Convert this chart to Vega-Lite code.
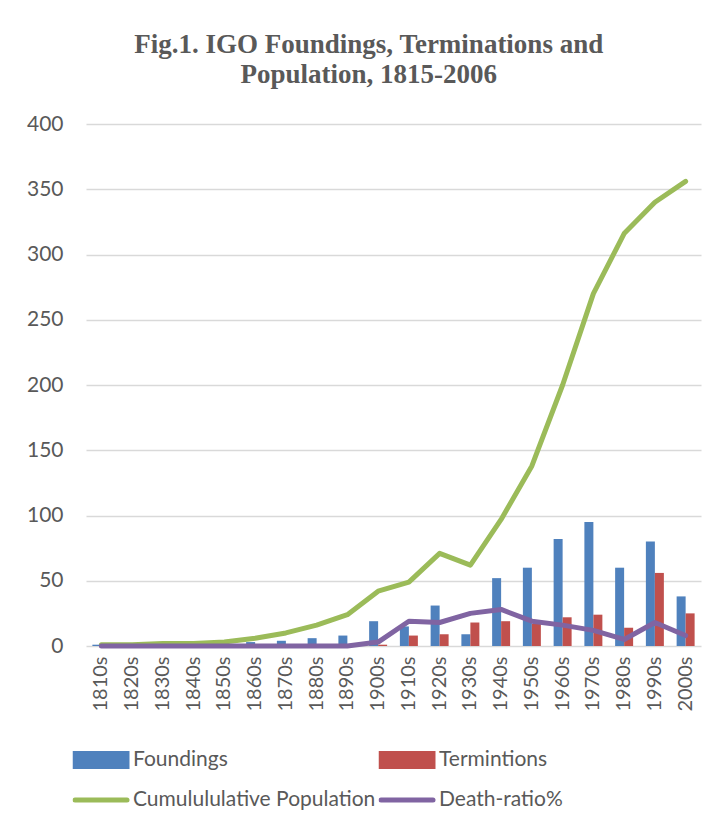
{
  "$schema": "https://vega.github.io/schema/vega-lite/v6.json",
  "autosize": {"type": "none"},
  "width": 615,
  "height": 522,
  "padding": {"left": 86, "top": 124, "right": 18, "bottom": 184},
  "background": "white",
  "title": {
    "text": ["Fig.1. IGO Foundings, Terminations and", "Population, 1815-2006"],
    "font": "Liberation Serif",
    "fontSize": 27,
    "fontWeight": "bold",
    "color": "#595959",
    "lineHeight": 30,
    "anchor": "middle",
    "frame": "bounds",
    "dx": 5,
    "offset": 24
  },
  "config": {
    "view": {"stroke": null},
    "font": "Lato"
  },
  "data": {
    "values": [
      {"decade": "1810s", "series": "Foundings", "value": 1},
      {"decade": "1820s", "series": "Foundings", "value": 0},
      {"decade": "1830s", "series": "Foundings", "value": 0},
      {"decade": "1840s", "series": "Foundings", "value": 0},
      {"decade": "1850s", "series": "Foundings", "value": 1},
      {"decade": "1860s", "series": "Foundings", "value": 3},
      {"decade": "1870s", "series": "Foundings", "value": 4},
      {"decade": "1880s", "series": "Foundings", "value": 6},
      {"decade": "1890s", "series": "Foundings", "value": 8},
      {"decade": "1900s", "series": "Foundings", "value": 19},
      {"decade": "1910s", "series": "Foundings", "value": 15},
      {"decade": "1920s", "series": "Foundings", "value": 31},
      {"decade": "1930s", "series": "Foundings", "value": 9},
      {"decade": "1940s", "series": "Foundings", "value": 52},
      {"decade": "1950s", "series": "Foundings", "value": 60},
      {"decade": "1960s", "series": "Foundings", "value": 82},
      {"decade": "1970s", "series": "Foundings", "value": 95},
      {"decade": "1980s", "series": "Foundings", "value": 60},
      {"decade": "1990s", "series": "Foundings", "value": 80},
      {"decade": "2000s", "series": "Foundings", "value": 38},
      {"decade": "1810s", "series": "Termintions", "value": 0},
      {"decade": "1820s", "series": "Termintions", "value": 0},
      {"decade": "1830s", "series": "Termintions", "value": 0},
      {"decade": "1840s", "series": "Termintions", "value": 0},
      {"decade": "1850s", "series": "Termintions", "value": 0},
      {"decade": "1860s", "series": "Termintions", "value": 0},
      {"decade": "1870s", "series": "Termintions", "value": 0},
      {"decade": "1880s", "series": "Termintions", "value": 0},
      {"decade": "1890s", "series": "Termintions", "value": 0},
      {"decade": "1900s", "series": "Termintions", "value": 1},
      {"decade": "1910s", "series": "Termintions", "value": 8},
      {"decade": "1920s", "series": "Termintions", "value": 9},
      {"decade": "1930s", "series": "Termintions", "value": 18},
      {"decade": "1940s", "series": "Termintions", "value": 19},
      {"decade": "1950s", "series": "Termintions", "value": 17},
      {"decade": "1960s", "series": "Termintions", "value": 22},
      {"decade": "1970s", "series": "Termintions", "value": 24},
      {"decade": "1980s", "series": "Termintions", "value": 14},
      {"decade": "1990s", "series": "Termintions", "value": 56},
      {"decade": "2000s", "series": "Termintions", "value": 25},
      {"decade": "1810s", "series": "Cumulululative Population", "value": 1},
      {"decade": "1820s", "series": "Cumulululative Population", "value": 1},
      {"decade": "1830s", "series": "Cumulululative Population", "value": 2},
      {"decade": "1840s", "series": "Cumulululative Population", "value": 2},
      {"decade": "1850s", "series": "Cumulululative Population", "value": 3},
      {"decade": "1860s", "series": "Cumulululative Population", "value": 6},
      {"decade": "1870s", "series": "Cumulululative Population", "value": 10},
      {"decade": "1880s", "series": "Cumulululative Population", "value": 16},
      {"decade": "1890s", "series": "Cumulululative Population", "value": 24},
      {"decade": "1900s", "series": "Cumulululative Population", "value": 42},
      {"decade": "1910s", "series": "Cumulululative Population", "value": 49},
      {"decade": "1920s", "series": "Cumulululative Population", "value": 71},
      {"decade": "1930s", "series": "Cumulululative Population", "value": 62},
      {"decade": "1940s", "series": "Cumulululative Population", "value": 97},
      {"decade": "1950s", "series": "Cumulululative Population", "value": 138},
      {"decade": "1960s", "series": "Cumulululative Population", "value": 200},
      {"decade": "1970s", "series": "Cumulululative Population", "value": 270},
      {"decade": "1980s", "series": "Cumulululative Population", "value": 316},
      {"decade": "1990s", "series": "Cumulululative Population", "value": 340},
      {"decade": "2000s", "series": "Cumulululative Population", "value": 356},
      {"decade": "1810s", "series": "Death-ratio%", "value": 0},
      {"decade": "1820s", "series": "Death-ratio%", "value": 0},
      {"decade": "1830s", "series": "Death-ratio%", "value": 0},
      {"decade": "1840s", "series": "Death-ratio%", "value": 0},
      {"decade": "1850s", "series": "Death-ratio%", "value": 0},
      {"decade": "1860s", "series": "Death-ratio%", "value": 0},
      {"decade": "1870s", "series": "Death-ratio%", "value": 0},
      {"decade": "1880s", "series": "Death-ratio%", "value": 0},
      {"decade": "1890s", "series": "Death-ratio%", "value": 0},
      {"decade": "1900s", "series": "Death-ratio%", "value": 3},
      {"decade": "1910s", "series": "Death-ratio%", "value": 19},
      {"decade": "1920s", "series": "Death-ratio%", "value": 18},
      {"decade": "1930s", "series": "Death-ratio%", "value": 25},
      {"decade": "1940s", "series": "Death-ratio%", "value": 28},
      {"decade": "1950s", "series": "Death-ratio%", "value": 19},
      {"decade": "1960s", "series": "Death-ratio%", "value": 16},
      {"decade": "1970s", "series": "Death-ratio%", "value": 12},
      {"decade": "1980s", "series": "Death-ratio%", "value": 5},
      {"decade": "1990s", "series": "Death-ratio%", "value": 18},
      {"decade": "2000s", "series": "Death-ratio%", "value": 8}
    ]
  },
  "encoding": {
    "x": {
      "field": "decade",
      "type": "nominal",
      "sort": null,
      "scale": {"paddingInner": 0.415, "paddingOuter": 0.2075},
      "axis": {
        "title": null,
        "labelAngle": -90,
        "labelFont": "Lato",
        "labelFontSize": 20,
        "labelColor": "#595959",
        "labelPadding": 10,
        "ticks": false,
        "domain": false
      }
    },
    "y": {
      "field": "value",
      "type": "quantitative",
      "scale": {"domain": [0, 400], "nice": false},
      "axis": {
        "title": null,
        "values": [0, 50, 100, 150, 200, 250, 300, 350, 400],
        "labelFont": "Lato",
        "labelFontSize": 21,
        "labelColor": "#595959",
        "labelPadding": 23,
        "ticks": false,
        "domain": false,
        "gridColor": "#D9D9D9",
        "gridWidth": 1.4
      }
    },
    "color": {
      "field": "series",
      "type": "nominal",
      "scale": {
        "domain": ["Foundings", "Termintions", "Cumulululative Population", "Death-ratio%"],
        "range": ["#4F81BD", "#C0504D", "#9BBB59", "#8064A2"]
      },
      "legend": {
        "orient": "none",
        "legendX": -13.5,
        "legendY": 626,
        "title": null,
        "columns": 2,
        "direction": "horizontal",
        "clipHeight": 20,
        "rowPadding": 19,
        "columnPadding": 3,
        "labelFont": "Lato",
        "labelFontSize": 21,
        "labelColor": "#595959",
        "labelOffset": 3.5,
        "labelLimit": 400,
        "symbolSize": 2704,
        "symbolStrokeWidth": 5,
        "symbolType": "M-1,-0.25H1V0.25H-1Z",
        "encode": {
          "symbols": {
            "update": {
              "shape": {"signal": "indexof(['Foundings','Termintions'], datum.value) >= 0 ? 'M-1,-0.25H1V0.25H-1Z' : 'stroke'"},
              "size": {"value": 2704},
              "fill": {"scale": "color", "field": "value"},
              "stroke": {"signal": "indexof(['Foundings','Termintions'], datum.value) >= 0 ? 'transparent' : scale('color', datum.value)"},
              "strokeWidth": {"value": 5},
              "strokeCap": {"value": "round"},
              "opacity": {"value": 1}
            }
          }
        }
      }
    }
  },
  "layer": [
    {
      "transform": [{"filter": "datum.series === 'Foundings' || datum.series === 'Termintions'"}],
      "mark": {"type": "bar"},
      "encoding": {
        "xOffset": {
          "field": "series",
          "type": "nominal",
          "sort": ["Foundings", "Termintions"],
          "scale": {"paddingInner": 0, "paddingOuter": 0}
        }
      }
    },
    {
      "transform": [{"filter": "datum.series === 'Cumulululative Population'"}],
      "mark": {"type": "line", "strokeWidth": 5, "strokeCap": "round", "strokeJoin": "round"},
      "encoding": {}
    },
    {
      "transform": [{"filter": "datum.series === 'Death-ratio%'"}],
      "mark": {"type": "line", "strokeWidth": 5, "strokeCap": "round", "strokeJoin": "round"},
      "encoding": {}
    }
  ]
}
